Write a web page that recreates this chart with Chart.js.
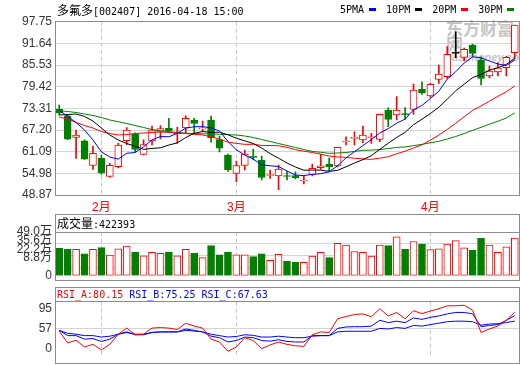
<!DOCTYPE html>
<html>
<head>
<meta charset="utf-8">
<script src="https://cdn.jsdelivr.net/npm/chart.js@4.4.0/dist/chart.umd.min.js"></script>
<style>
  body { margin: 0; background: #fff; }
  #wrap { position: relative; width: 520px; height: 365px; overflow: hidden;
    font-family: "DejaVu Sans Mono", "Noto Sans CJK SC", monospace; font-size: 10px; color: #000; }
  canvas { position: absolute; left: 0; z-index: 1; }
  .box { position: absolute; left: 55px; width: 465px; border: 1px solid #8c8c8c; box-sizing: border-box; z-index: 2; }
  .rule { position: absolute; left: 55px; width: 465px; height: 1px; background: #8c8c8c; z-index: 2; }
  .txt { position: absolute; white-space: nowrap; line-height: 12px; z-index: 3; }
  .cjk { font-family: "Noto Sans CJK SC", sans-serif; font-size: 12px; }
  .key { display: inline-block; width: 7px; height: 3px; margin: 0 10px 1px 5px; vertical-align: middle; }
  #mark { position: absolute; left: 446px; top: 20px; color: #c4c4c4; z-index: 0; line-height: 16px; }
</style>
</head>
<body>
<div id="wrap">
  <div id="mark">
    <div style="font-family:'Noto Sans CJK SC';font-weight:bold;font-size:17px;">东方财富网</div>
    <div style="font-family:'Liberation Sans';font-weight:bold;font-style:italic;font-size:11px;line-height:10px;">eastmoney.com</div>
  </div>

  <canvas id="main" width="520" height="215" style="top:0"></canvas>
  <canvas id="vol" width="520" height="72" style="top:214px"></canvas>
  <canvas id="rsi" width="520" height="77" style="top:288px"></canvas>

  <div class="box" style="top:21px;height:175px"></div>
  <div class="box" style="top:214px;height:67px"></div>
  <div class="rule" style="top:232px"></div>
  <div class="box" style="top:287px;height:77px"></div>
  <div class="rule" style="top:301px"></div>

  <div class="txt" style="left:57px;top:4px"><span class="cjk">多氟多</span>[002407] 2016-04-18 15:00</div>
  <div class="txt" style="left:340px;top:4px">5PMA<span class="key" style="background:#0000ff"></span>10PM<span class="key" style="background:#000"></span>20PM<span class="key" style="background:#ff0000"></span>30PM<span class="key" style="background:#008000"></span></div>
  <div class="txt" style="left:57px;top:217px"><span class="cjk">成交量</span>:422393</div>
  <div class="txt" style="left:57px;top:289px"><span style="color:#ff0000">RSI_A:80.15</span> <span style="color:#0000ff">RSI_B:75.25</span> <span style="color:#0000ff">RSI_C:67.63</span></div>
</div>

<script>
'use strict';

// trading days shown
const dates = [
  '2016-01-25', '2016-01-26', '2016-01-27', '2016-01-28', '2016-01-29',
  '2016-02-01', '2016-02-02', '2016-02-03', '2016-02-04', '2016-02-05',
  '2016-02-15', '2016-02-16', '2016-02-17', '2016-02-18', '2016-02-19',
  '2016-02-22', '2016-02-23', '2016-02-24', '2016-02-25', '2016-02-26',
  '2016-02-29', '2016-03-01', '2016-03-02', '2016-03-03', '2016-03-04',
  '2016-03-07', '2016-03-08', '2016-03-09', '2016-03-10', '2016-03-11',
  '2016-03-14', '2016-03-15', '2016-03-16', '2016-03-17', '2016-03-18',
  '2016-03-21', '2016-03-22', '2016-03-23', '2016-03-24', '2016-03-25',
  '2016-03-28', '2016-03-29', '2016-03-30', '2016-03-31', '2016-04-01',
  '2016-04-05', '2016-04-06', '2016-04-07', '2016-04-08', '2016-04-11',
  '2016-04-12', '2016-04-13', '2016-04-14', '2016-04-15', '2016-04-18'
];

const open = [73.04, 71.2, 65.14, 64.18, 57.19, 59.22, 54.09, 56.85, 64.18, 65.99,
  60.35, 64.1, 66.83, 67.68, 66.2, 67.76, 70.02, 67.5, 70.02, 64.5,
  60.15, 54.99, 57.19, 59.87, 58.74, 54.37, 54.23, 54.37, 54.37, 52.82,
  54.65, 56.57, 57.61, 57.05, 63.82, 64.86, 64.38, 65.03, 64.58, 72.84,
  71.43, 71.85, 72.98, 78.76, 76.79, 81.5, 82.23, 88.83, 87.7, 91.17,
  86.94, 82.43, 83.62, 84.77, 89.0];
const high = [74.25, 71.6, 67.2, 64.4, 62.7, 60.15, 57.8, 63.5, 67.9, 66.4,
  64.4, 68.3, 68.47, 70.5, 68.0, 71.2, 70.5, 69.7, 71.1, 65.5,
  60.4, 58.46, 61.56, 61.84, 59.87, 55.92, 57.33, 55.64, 55.44, 54.23,
  57.61, 60.35, 59.3, 62.4, 65.31, 66.7, 68.33, 66.27, 71.71, 73.49,
  76.65, 73.55, 80.17, 80.82, 80.46, 85.53, 90.75, 94.92, 90.32, 91.45,
  87.87, 85.25, 86.18, 88.07, 96.81];
const low = [71.43, 64.5, 59.2, 58.9, 56.06, 54.65, 53.9, 56.5, 63.1, 61.0,
  60.15, 63.0, 64.66, 66.6, 63.5, 66.4, 66.07, 66.7, 63.8, 61.0,
  55.5, 52.62, 55.92, 58.74, 53.1, 53.58, 50.36, 53.1, 53.38, 51.97,
  54.23, 56.12, 55.36, 56.77, 62.97, 62.97, 63.62, 63.45, 63.9, 68.13,
  70.02, 70.22, 71.63, 77.27, 76.42, 80.37, 81.78, 87.59, 86.66, 87.87,
  79.89, 81.87, 82.43, 82.43, 87.42];
const close = [72.0, 64.6, 65.8, 59.0, 60.63, 55.16, 57.25, 62.97, 67.2, 61.7,
  63.11, 67.2, 67.57, 66.92, 66.5, 70.5, 69.09, 67.85, 64.95, 62.1,
  55.92, 57.19, 60.43, 59.45, 53.81, 54.65, 56.2, 54.09, 53.75, 53.02,
  56.4, 57.13, 56.85, 62.32, 64.01, 65.14, 65.79, 65.23, 71.63, 70.16,
  72.84, 71.43, 78.48, 77.72, 80.09, 83.0, 88.55, 88.83, 89.96, 88.83,
  81.78, 83.84, 84.77, 87.7, 96.81];

const ma5 = [72.84, 71.0, 69.32, 67.2, 64.4, 61.04, 59.57, 59.0, 60.64, 60.86,
  62.44, 64.43, 65.35, 65.3, 66.26, 67.74, 68.12, 68.17, 67.78, 66.9,
  63.98, 61.6, 60.12, 59.02, 57.36, 57.11, 56.91, 55.64, 54.5, 54.34,
  54.69, 54.88, 55.43, 57.14, 59.34, 61.09, 62.82, 64.5, 66.36, 67.59,
  69.13, 70.26, 72.91, 74.13, 76.11, 78.14, 81.57, 83.64, 86.09, 87.83,
  87.59, 86.65, 85.84, 85.38, 86.98];
const ma10 = [71.43, 71.57, 71.71, 71.0, 69.74, 67.76, 65.79, 64.38, 63.39, 62.63,
  61.74, 62.0, 62.18, 62.97, 63.56, 65.09, 66.28, 66.76, 66.54, 66.58,
  65.86, 64.86, 64.15, 63.4, 62.13, 60.54, 59.26, 57.88, 56.76, 55.85,
  55.9, 55.89, 55.54, 55.82, 56.84, 57.89, 58.85, 59.96, 61.75, 63.47,
  65.11, 66.54, 68.7, 70.24, 71.85, 73.64, 75.91, 78.27, 80.11, 81.97,
  82.87, 84.11, 84.74, 85.74, 87.41];
const ma20 = [70.87, 70.3, 69.32, 68.47, 67.76, 66.78, 66.21, 65.79, 65.93, 66.21,
  66.35, 66.5, 66.64, 66.55, 66.35, 66.21, 65.99, 65.79, 65.3, 64.6,
  63.8, 63.43, 63.16, 63.18, 62.85, 62.82, 62.77, 62.32, 61.65, 61.21,
  60.88, 60.38, 59.84, 59.61, 59.49, 59.22, 59.05, 58.92, 59.26, 59.66,
  60.5, 61.22, 62.12, 63.03, 64.35, 65.76, 67.38, 69.12, 70.93, 72.72,
  73.99, 75.32, 76.72, 77.99, 79.63];
const ma30 = [72.64, 72.42, 72.14, 71.71, 71.29, 70.73, 70.02, 69.54, 69.03, 68.47,
  67.91, 67.34, 67.0, 66.72, 66.5, 66.3, 66.18, 66.13, 66.1, 66.0,
  65.9, 65.79, 65.51, 65.09, 64.52, 63.96, 63.39, 62.83, 62.27, 61.69,
  61.17, 60.92, 60.62, 60.73, 60.84, 61.18, 61.46, 61.54, 61.68, 61.97,
  62.29, 62.43, 62.79, 63.15, 63.61, 64.02, 64.67, 65.37, 66.21, 67.1,
  67.96, 68.85, 69.66, 70.6, 72.03];

const volumes = [306000, 296000, 296000, 245000, 296000, 316000, 231000, 303000, 333000, 265000,
  224000, 262000, 252000, 265000, 224000, 296000, 252000, 204000, 337000, 235000,
  265000, 235000, 235000, 214000, 245000, 173000, 241000, 163000, 153000, 150000,
  221000, 262000, 204000, 364000, 343000, 272000, 262000, 221000, 343000, 337000,
  435000, 296000, 384000, 354000, 293000, 303000, 354000, 395000, 313000, 286000,
  418000, 343000, 262000, 323000, 422393];

const rsiA = [53.4, 37.2, 40.8, 31.5, 35.1, 27.4, 35.1, 49.3, 57.8, 48.5,
  49.3, 57.8, 58.6, 57.8, 55.8, 64.7, 60.6, 57.8, 42.4, 38.4,
  25.4, 31.5, 44.4, 40.4, 29.1, 34.3, 38.4, 35.1, 33.1, 32.3,
  48.5, 52.5, 51.7, 70.8, 74.0, 76.8, 77.7, 73.6, 84.9, 74.8,
  79.7, 70.8, 82.1, 78.1, 81.7, 84.9, 89.0, 89.0, 89.8, 82.9,
  51.7, 56.6, 60.6, 68.7, 80.15];
const rsiB = [54.6, 47.3, 47.3, 42.4, 43.2, 39.2, 42.4, 49.3, 52.5, 48.5,
  48.5, 51.7, 52.5, 52.5, 52.5, 56.6, 54.6, 52.5, 46.5, 44.4,
  38.4, 40.4, 45.3, 44.4, 40.4, 39.6, 41.6, 39.2, 38.4, 38.4,
  47.3, 47.3, 47.3, 57.4, 59.4, 59.8, 59.8, 60.6, 68.7, 65.5,
  67.5, 65.5, 72.0, 70.0, 72.8, 74.8, 77.7, 79.7, 79.7, 77.7,
  59.8, 61.5, 62.7, 68.7, 75.25];
const rsiC = [54.6, 50.5, 49.3, 47.3, 47.3, 45.3, 46.5, 49.3, 51.7, 49.3,
  49.3, 51.7, 52.5, 52.5, 52.5, 54.6, 53.8, 52.5, 49.3, 47.3,
  45.3, 46.1, 48.5, 47.7, 45.3, 45.3, 46.5, 45.3, 44.4, 44.4,
  46.5, 47.3, 47.3, 52.5, 53.4, 53.4, 53.4, 53.4, 57.4, 56.6,
  58.6, 57.4, 61.5, 60.6, 62.7, 64.7, 66.7, 67.5, 67.5, 66.7,
  61.9, 63.5, 63.9, 65.5, 67.63];

// axis ticks
const priceTicks = [48.87, 54.98, 61.09, 67.20, 73.31, 79.42, 85.53, 91.64, 97.75];
const volTicks = [0, 88000, 222000, 356000, 490000];
const rsiTickLabels = ['0', '57', '95'];

const RED = '#ff0000';
const GREEN = '#008000';
const BLUE = '#0000ff';
const GRID = '#d4d4d4';
const NONE = 'rgba(0,0,0,0)';
const labelFont = { family: "'Liberation Sans', 'Noto Sans CJK SC', sans-serif", size: 12 };

function monthLabel(i) {
  if (i === 0) return '';
  let m = parseInt(dates[i].slice(5, 7), 10);
  let prev = parseInt(dates[i - 1].slice(5, 7), 10);
  return m !== prev ? m + '月' : '';
}

function candleColor(i) {
  if (close[i] > open[i]) return RED;
  if (close[i] < open[i]) return GREEN;
  return '#000000';
}

function volumeUp(i) {
  if (close[i] !== open[i]) return close[i] > open[i];
  return i === 0 || close[i] >= close[i - 1];
}

function volLabel(v) {
  return v === 0 ? '0' : (v / 10000).toFixed(1) + '万';
}

// x axis shared by the three panels: dashed line on the first day of each month
function dateAxis(showLabels) {
  return {
    offset: true,
    afterFit: (s) => { s.height = showLabels ? 20 : 0; },
    grid: {
      offset: false,
      drawTicks: false,
      color: (c) => monthLabel(c.index) ? '#c4c4c4' : NONE
    },
    border: { display: false, dash: [4, 3] },
    ticks: {
      display: showLabels,
      autoSkip: false,
      maxRotation: 0,
      padding: 5,
      color: RED,
      font: labelFont,
      callback: (v, i) => monthLabel(i)
    }
  };
}

function lineSet(values, color) {
  return {
    type: 'line',
    data: values,
    borderColor: color,
    borderWidth: 1,
    pointRadius: 0,
    tension: 0,
    order: 0
  };
}

const common = {
  responsive: false,
  animation: false,
  events: [],
  plugins: { legend: { display: false }, tooltip: { enabled: false } }
};

// price panel
new Chart(document.getElementById('main'), {
  type: 'bar',
  data: {
    labels: dates,
    datasets: [
      lineSet(ma5, BLUE),
      lineSet(ma10, '#000000'),
      lineSet(ma20, RED),
      lineSet(ma30, GREEN),
      {
        data: dates.map((d, i) => [open[i], close[i]]),
        backgroundColor: (c) => candleColor(c.dataIndex) === RED ? '#ffffff' : candleColor(c.dataIndex),
        borderColor: (c) => candleColor(c.dataIndex),
        borderWidth: 1,
        borderSkipped: false,
        barThickness: 7,
        minBarLength: 1,
        grouped: false,
        order: 1
      },
      {
        data: dates.map((d, i) => [low[i], high[i]]),
        backgroundColor: (c) => candleColor(c.dataIndex),
        borderWidth: 0,
        barThickness: 1,
        grouped: false,
        order: 2
      }
    ]
  },
  options: {
    ...common,
    layout: { padding: { top: 21.7, right: 1, left: 0, bottom: 0 } },
    scales: {
      x: dateAxis(true),
      y: {
        min: 48.87,
        max: 97.75,
        afterBuildTicks: (s) => { s.ticks = priceTicks.map((v) => ({ value: v })); },
        afterFit: (s) => { s.width = 55; },
        grid: { color: GRID, drawTicks: false },
        border: { display: false },
        ticks: { color: '#333333', padding: 3, font: labelFont, callback: (v) => v.toFixed(2) }
      }
    }
  }
});

// volume panel
new Chart(document.getElementById('vol'), {
  type: 'bar',
  data: {
    labels: dates,
    datasets: [{
      data: volumes,
      backgroundColor: (c) => volumeUp(c.dataIndex) ? '#ffffff' : GREEN,
      borderColor: (c) => volumeUp(c.dataIndex) ? RED : GREEN,
      borderWidth: 1,
      borderSkipped: false,
      barThickness: 7
    }]
  },
  options: {
    ...common,
    layout: { padding: { top: 18, right: 1, left: 0, bottom: 6 } },
    scales: {
      x: dateAxis(false),
      y: {
        min: 0,
        max: 490000,
        // grid lines sit on the tick values; the source stacks its labels
        // upward at a fixed pitch so they don't collide near the bottom
        afterBuildTicks: (s) => {
          let span = s.max - s.min;
          let lines = volTicks.map((v) => ({ value: v, kind: 'line' }));
          let labels = volTicks.map((v, i) => ({
            value: i === 0 ? v : s.max - span * (volTicks.length - 1 - i) * 9.5 / 48,
            kind: 'label',
            text: volLabel(v)
          }));
          s.ticks = lines.concat(labels).sort((a, b) => a.value - b.value);
        },
        afterFit: (s) => { s.width = 55; },
        grid: {
          drawTicks: false,
          color: (c) => (c.tick && c.tick.kind === 'line' && c.tick.value > 0 && c.tick.value < 490000) ? GRID : NONE
        },
        border: { display: false },
        ticks: {
          autoSkip: false,
          color: '#333333', padding: 3, font: labelFont,
          callback: (v, i, ticks) => ticks[i].kind === 'label' ? ticks[i].text : ''
        }
      }
    }
  }
});

// RSI panel
new Chart(document.getElementById('rsi'), {
  type: 'line',
  data: {
    labels: dates,
    datasets: [
      lineSet(rsiA, RED),
      lineSet(rsiB, BLUE),
      lineSet(rsiC, BLUE)
    ]
  },
  options: {
    ...common,
    layout: { padding: { top: 13.7, right: 1, left: 0, bottom: 1.7 } },
    scales: {
      x: dateAxis(false),
      y: {
        min: 20.5,
        max: 94.7,
        // the source prints its "0" and "95" labels just inside the panel edges
        afterBuildTicks: (s) => {
          let span = s.max - s.min;
          s.ticks = [
            { value: s.min + span * 7 / 61 },
            { value: 57 },
            { value: s.max - span * 8 / 61 }
          ];
        },
        afterFit: (s) => { s.width = 55; },
        grid: { drawTicks: false, color: (c) => (c.tick && c.tick.value === 57) ? GRID : NONE },
        border: { display: false },
        ticks: { autoSkip: false, color: '#333333', padding: 3, font: labelFont, callback: (v, i) => rsiTickLabels[i] }
      }
    }
  }
});
</script>
</body>
</html>
